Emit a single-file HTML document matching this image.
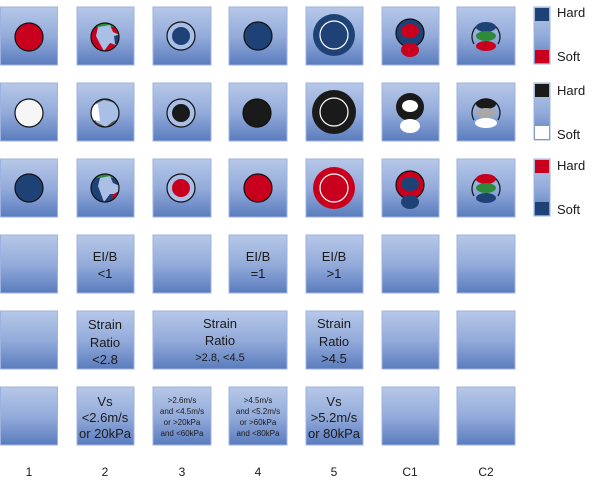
<!DOCTYPE html>
<html><head><meta charset="utf-8"><style>
html,body{margin:0;padding:0;background:#fff;}
svg{display:block;}
text{font-family:"Liberation Sans",sans-serif;fill:#1a1a1a;}
</style></head><body>
<svg width="600" height="483" viewBox="0 0 600 483" xmlns="http://www.w3.org/2000/svg">
<defs>
<linearGradient id="g" x1="0" y1="0" x2="0" y2="1">
<stop offset="0" stop-color="#b7c8e8"/><stop offset="0.5" stop-color="#94acdb"/><stop offset="1" stop-color="#5a7cbd"/>
</linearGradient>
<clipPath id="c2a"><circle cx="105" cy="37" r="14"/></clipPath>
<clipPath id="c2b"><circle cx="105" cy="113" r="14"/></clipPath>
<clipPath id="c2c"><circle cx="105" cy="188" r="14"/></clipPath>
</defs>
<g fill="url(#g)" stroke="#9db3df" stroke-width="1">
<rect x="0.5" y="7" width="57" height="58"/><rect x="77" y="7" width="57" height="58"/><rect x="153" y="7" width="58" height="58"/><rect x="229" y="7" width="58" height="58"/><rect x="306" y="7" width="57" height="58"/><rect x="382" y="7" width="57" height="58"/><rect x="457" y="7" width="58" height="58"/>
<rect x="0.5" y="83" width="57" height="58"/><rect x="77" y="83" width="57" height="58"/><rect x="153" y="83" width="58" height="58"/><rect x="229" y="83" width="58" height="58"/><rect x="306" y="83" width="57" height="58"/><rect x="382" y="83" width="57" height="58"/><rect x="457" y="83" width="58" height="58"/>
<rect x="0.5" y="159" width="57" height="58"/><rect x="77" y="159" width="57" height="58"/><rect x="153" y="159" width="58" height="58"/><rect x="229" y="159" width="58" height="58"/><rect x="306" y="159" width="57" height="58"/><rect x="382" y="159" width="57" height="58"/><rect x="457" y="159" width="58" height="58"/>
<rect x="0.5" y="235" width="57" height="58"/><rect x="77" y="235" width="57" height="58"/><rect x="153" y="235" width="58" height="58"/><rect x="229" y="235" width="58" height="58"/><rect x="306" y="235" width="57" height="58"/><rect x="382" y="235" width="57" height="58"/><rect x="457" y="235" width="58" height="58"/>
<rect x="0.5" y="311" width="57" height="58"/><rect x="77" y="311" width="57" height="58"/><rect x="153" y="311" width="134" height="58"/><rect x="306" y="311" width="57" height="58"/><rect x="382" y="311" width="57" height="58"/><rect x="457" y="311" width="58" height="58"/>
<rect x="0.5" y="387" width="57" height="58"/><rect x="77" y="387" width="57" height="58"/><rect x="153" y="387" width="58" height="58"/><rect x="229" y="387" width="58" height="58"/><rect x="306" y="387" width="57" height="58"/><rect x="382" y="387" width="57" height="58"/><rect x="457" y="387" width="58" height="58"/>
<rect x="534" y="7" width="16" height="57"/><rect x="534" y="83" width="16" height="57"/><rect x="534" y="159" width="16" height="57"/>
</g>
<rect x="535" y="8" width="14" height="13" fill="#1f4276"/><rect x="535" y="50" width="14" height="13" fill="#c8001e"/>
<rect x="535" y="84" width="14" height="13" fill="#1a1a1a"/><rect x="535" y="126" width="14" height="13" fill="#fff"/>
<rect x="535" y="160" width="14" height="13" fill="#c8001e"/><rect x="535" y="202" width="14" height="13" fill="#1f4276"/>
<g font-size="13"><text x="557" y="17">Hard</text><text x="557" y="61">Soft</text>
<text x="557" y="95">Hard</text><text x="557" y="139">Soft</text>
<text x="557" y="170">Hard</text><text x="557" y="214">Soft</text></g>

<circle cx="29" cy="37" r="14" fill="#c8001e" stroke="#111" stroke-width="1.2"/>
<circle cx="29" cy="113" r="14" fill="#f6f6f6" stroke="#111" stroke-width="1.2"/>
<circle cx="29" cy="188" r="14" fill="#1f4276" stroke="#111" stroke-width="1.2"/>
<g clip-path="url(#c2a)"><circle cx="105" cy="37" r="14" fill="#c8001e"/><rect x="91" y="22" width="28" height="5" fill="#2e8a3a"/><path d="M98 27 L110 25 L113 32 L120 35 L116 45 L110 43 L104 51 L100 44 L96 36Z" fill="#a9bfe6"/><path d="M114 36 L121 34 L121 45 L115 44Z" fill="#1f4276"/></g>
<circle cx="105" cy="37" r="14" fill="none" stroke="#111" stroke-width="1.2"/>
<g clip-path="url(#c2b)"><circle cx="105" cy="113" r="14" fill="#555"/><path d="M95 104 L104 100 L112 102 L120 106 L118 119 L112 122 L106 127 L96 122Z" fill="#a9bfe6"/><path d="M90 106 L98 104 L100 121 L91 120Z" fill="#fff"/></g>
<circle cx="105" cy="113" r="14" fill="none" stroke="#111" stroke-width="1.2"/>
<g clip-path="url(#c2c)"><circle cx="105" cy="188" r="14" fill="#1f4276"/><rect x="91" y="173" width="28" height="5" fill="#2e8a3a"/><path d="M100 178 L110 176 L113 183 L120 186 L117 194 L110 194 L104 202 L101 194 L98 186Z" fill="#a9bfe6"/><path d="M112 195 L121 190 L120 200 L113 200Z" fill="#c8001e"/></g>
<circle cx="105" cy="188" r="14" fill="none" stroke="#111" stroke-width="1.2"/>
<circle cx="181" cy="36" r="14" fill="#a9bfe6" stroke="#111" stroke-width="1.2"/><circle cx="181" cy="36" r="9" fill="#1f4276"/>
<circle cx="181" cy="113" r="14" fill="#a9bfe6" stroke="#111" stroke-width="1.2"/><circle cx="181" cy="113" r="9" fill="#1a1a1a"/>
<circle cx="181" cy="188" r="14" fill="#a9bfe6" stroke="#111" stroke-width="1.2"/><circle cx="181" cy="188" r="9" fill="#c8001e"/>
<circle cx="258" cy="36" r="14" fill="#1f4276" stroke="#111" stroke-width="1.2"/>
<circle cx="257" cy="113" r="14" fill="#1a1a1a" stroke="#111" stroke-width="1.2"/>
<circle cx="258" cy="188" r="14" fill="#c8001e" stroke="#111" stroke-width="1.2"/>
<circle cx="334" cy="35" r="21" fill="#1f4276"/><circle cx="334" cy="35" r="14" fill="none" stroke="#fff" stroke-width="1.2"/>
<circle cx="334" cy="112" r="22" fill="#1a1a1a"/><circle cx="334" cy="112" r="14" fill="none" stroke="#fff" stroke-width="1.2"/>
<circle cx="334" cy="188" r="21" fill="#c8001e"/><circle cx="334" cy="188" r="14" fill="none" stroke="#fff" stroke-width="1.2"/>
<circle cx="410" cy="33" r="14" fill="#1f4276" stroke="#111" stroke-width="1.2"/><ellipse cx="410" cy="31" rx="9" ry="7" fill="#c8001e"/><ellipse cx="410" cy="50" rx="9" ry="7" fill="#c8001e"/>
<circle cx="410" cy="107" r="14" fill="#1a1a1a"/><ellipse cx="410" cy="106" rx="8" ry="6" fill="#fff"/><ellipse cx="410" cy="126" rx="10" ry="7" fill="#fff"/>
<circle cx="410" cy="185" r="14" fill="#c8001e" stroke="#111" stroke-width="1.2"/><ellipse cx="410" cy="184" rx="9" ry="7" fill="#1f4276"/><ellipse cx="410" cy="202" rx="9" ry="7" fill="#1f4276"/>
<path d="M474 44 A14 14 0 1 1 498 44" fill="none" stroke="#111" stroke-width="1.2"/><ellipse cx="486" cy="27" rx="10" ry="5" fill="#1f4276"/><ellipse cx="486" cy="36" rx="10" ry="5" fill="#2e8a3a"/><ellipse cx="486" cy="46" rx="10" ry="5" fill="#c8001e"/>
<path d="M474 120 A14 14 0 1 1 498 120" fill="none" stroke="#111" stroke-width="1.2"/><ellipse cx="486" cy="104" rx="10" ry="5" fill="#1a1a1a"/><ellipse cx="486" cy="113" rx="10" ry="5" fill="#a8a8a8"/><ellipse cx="486" cy="123" rx="11" ry="5" fill="#fff"/>
<path d="M474 196 A14 14 0 1 1 498 196" fill="none" stroke="#111" stroke-width="1.2"/><ellipse cx="486" cy="179" rx="10" ry="5" fill="#c8001e"/><ellipse cx="486" cy="188" rx="10" ry="5" fill="#2e8a3a"/><ellipse cx="486" cy="198" rx="10" ry="5" fill="#1f4276"/>

<g font-size="13" text-anchor="middle">
<text x="105" y="261">EI/B</text><text x="105" y="278">&lt;1</text>
<text x="258" y="261">EI/B</text><text x="258" y="278">=1</text>
<text x="334" y="261">EI/B</text><text x="334" y="278">&gt;1</text>
<text x="105" y="329">Strain</text><text x="105" y="347">Ratio</text><text x="105" y="364">&lt;2.8</text>
<text x="220" y="328">Strain</text><text x="220" y="345">Ratio</text><text x="220" y="361" font-size="11">&gt;2.8, &lt;4.5</text>
<text x="334" y="328">Strain</text><text x="334" y="346">Ratio</text><text x="334" y="363">&gt;4.5</text>
<text x="105" y="406">Vs</text><text x="105" y="422">&lt;2.6m/s</text><text x="105" y="438">or 20kPa</text>
<text x="334" y="406">Vs</text><text x="334" y="422">&gt;5.2m/s</text><text x="334" y="438">or 80kPa</text>
</g>
<g font-size="8" text-anchor="middle">
<text x="182" y="403">&gt;2.6m/s</text><text x="182" y="414">and &lt;4.5m/s</text><text x="182" y="425">or &gt;20kPa</text><text x="182" y="436">and &lt;60kPa</text>
<text x="258" y="403">&gt;4.5m/s</text><text x="258" y="414">and &lt;5.2m/s</text><text x="258" y="425">or &gt;60kPa</text><text x="258" y="436">and &lt;80kPa</text>
</g>
<g font-size="12" text-anchor="middle">
<text x="29" y="476">1</text><text x="105" y="476">2</text><text x="182" y="476">3</text><text x="258" y="476">4</text><text x="334" y="476">5</text><text x="410" y="476">C1</text><text x="486" y="476">C2</text>
</g>
</svg>
</body></html>
